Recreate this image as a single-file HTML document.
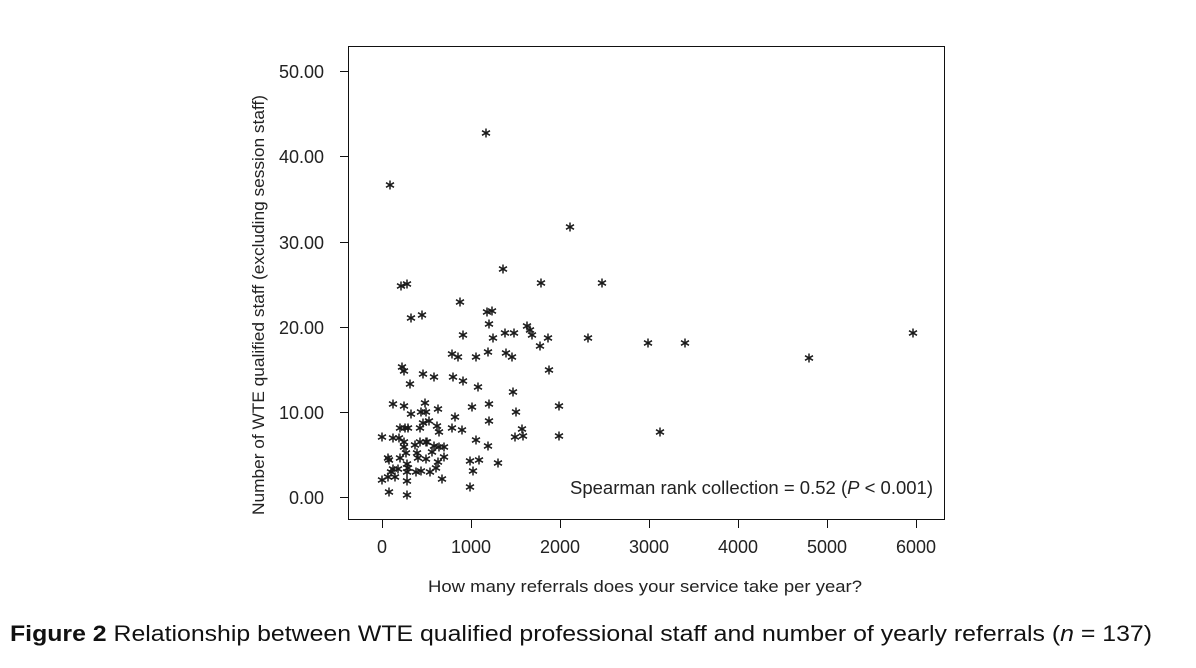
<!DOCTYPE html>
<html><head><meta charset="utf-8"><style>
html,body{margin:0;padding:0;background:#fff;width:1196px;height:668px;overflow:hidden}
svg{display:block}
</style></head><body>
<svg width="1196" height="668" viewBox="0 0 1196 668" xmlns="http://www.w3.org/2000/svg">
<defs>
<g id="s" stroke="#1a1a1a" stroke-width="1.5" fill="none">
<line x1="0" y1="-4.5" x2="0" y2="4.5"/><line x1="-4" y1="-2.3" x2="4" y2="2.3"/><line x1="-4" y1="2.3" x2="4" y2="-2.3"/>
</g>
</defs>
<rect x="348.5" y="46.5" width="596" height="473" fill="none" stroke="#111" stroke-width="1"/>
<g stroke="#111" stroke-width="1">
<line x1="340" y1="71.5" x2="348" y2="71.5"/><line x1="340" y1="156.5" x2="348" y2="156.5"/><line x1="340" y1="242.5" x2="348" y2="242.5"/><line x1="340" y1="327.5" x2="348" y2="327.5"/><line x1="340" y1="412.5" x2="348" y2="412.5"/><line x1="340" y1="497.5" x2="348" y2="497.5"/>
<line x1="382.5" y1="520" x2="382.5" y2="528"/><line x1="471.5" y1="520" x2="471.5" y2="528"/><line x1="560.5" y1="520" x2="560.5" y2="528"/><line x1="649.5" y1="520" x2="649.5" y2="528"/><line x1="738.5" y1="520" x2="738.5" y2="528"/><line x1="827.5" y1="520" x2="827.5" y2="528"/><line x1="916.5" y1="520" x2="916.5" y2="528"/>
</g>
<g font-family="Liberation Sans, sans-serif" font-size="18" fill="#222" text-anchor="end">
<text x="324" y="78">50.00</text><text x="324" y="163">40.00</text><text x="324" y="249">30.00</text><text x="324" y="334">20.00</text><text x="324" y="419">10.00</text><text x="324" y="504">0.00</text>
</g>
<g font-family="Liberation Sans, sans-serif" font-size="18" fill="#222" text-anchor="middle">
<text x="382" y="553">0</text><text x="471" y="553">1000</text><text x="560" y="553">2000</text><text x="649" y="553">3000</text><text x="738" y="553">4000</text><text x="827" y="553">5000</text><text x="916" y="553">6000</text>
<text x="645" y="592" font-size="17" textLength="434" lengthAdjust="spacingAndGlyphs">How many referrals does your service take per year?</text>
<text transform="translate(264,305) rotate(-90)" font-size="17" textLength="420" lengthAdjust="spacingAndGlyphs">Number of WTE qualified staff (excluding session staff)</text>
</g>
<text x="570" y="494" font-family="Liberation Sans, sans-serif" font-size="18" fill="#222" textLength="363" lengthAdjust="spacingAndGlyphs">Spearman rank collection = 0.52 (<tspan font-style="italic">P</tspan> &lt; 0.001)</text>
<text x="10" y="641" font-family="Liberation Sans, sans-serif" font-size="22" fill="#111" textLength="1142" lengthAdjust="spacingAndGlyphs"><tspan font-weight="bold">Figure 2</tspan>  Relationship between WTE qualified professional staff and number of yearly referrals (<tspan font-style="italic">n</tspan> = 137)</text>
<g>
<use href="#s" x="390" y="185"/><use href="#s" x="486" y="133"/><use href="#s" x="570" y="227"/><use href="#s" x="648" y="343"/><use href="#s" x="685" y="343"/><use href="#s" x="809" y="358"/><use href="#s" x="913" y="333"/><use href="#s" x="660" y="432"/>
<use href="#s" x="503" y="269"/><use href="#s" x="401" y="286"/><use href="#s" x="407" y="284"/><use href="#s" x="541" y="283"/><use href="#s" x="602" y="283"/><use href="#s" x="460" y="302"/><use href="#s" x="411" y="318"/><use href="#s" x="422" y="315"/><use href="#s" x="487" y="312"/><use href="#s" x="492" y="311"/><use href="#s" x="489" y="324"/><use href="#s" x="463" y="335"/><use href="#s" x="505" y="333"/><use href="#s" x="514" y="333"/><use href="#s" x="493" y="338"/><use href="#s" x="527" y="326"/><use href="#s" x="530" y="330"/><use href="#s" x="532" y="335"/><use href="#s" x="548" y="338"/><use href="#s" x="540" y="346"/><use href="#s" x="588" y="338"/>
<use href="#s" x="452" y="354"/><use href="#s" x="458" y="357"/><use href="#s" x="476" y="357"/><use href="#s" x="488" y="352"/><use href="#s" x="506" y="353"/><use href="#s" x="512" y="357"/><use href="#s" x="402" y="367"/><use href="#s" x="404" y="371"/><use href="#s" x="423" y="374"/><use href="#s" x="434" y="377"/><use href="#s" x="453" y="377"/><use href="#s" x="463" y="381"/><use href="#s" x="410" y="384"/><use href="#s" x="478" y="387"/><use href="#s" x="549" y="370"/><use href="#s" x="513" y="392"/>
<use href="#s" x="393" y="404"/><use href="#s" x="404" y="406"/><use href="#s" x="425" y="403"/><use href="#s" x="438" y="409"/><use href="#s" x="411" y="414"/><use href="#s" x="421" y="412"/><use href="#s" x="426" y="412"/><use href="#s" x="472" y="407"/><use href="#s" x="489" y="404"/><use href="#s" x="516" y="412"/><use href="#s" x="559" y="406"/><use href="#s" x="455" y="417"/><use href="#s" x="489" y="421"/><use href="#s" x="429" y="421"/><use href="#s" x="423" y="423"/>
<use href="#s" x="400" y="428"/><use href="#s" x="405" y="428"/><use href="#s" x="408" y="428"/><use href="#s" x="420" y="428"/><use href="#s" x="437" y="426"/><use href="#s" x="439" y="432"/><use href="#s" x="452" y="428"/><use href="#s" x="462" y="430"/><use href="#s" x="522" y="429"/><use href="#s" x="523" y="436"/><use href="#s" x="515" y="437"/><use href="#s" x="559" y="436"/>
<use href="#s" x="382" y="437"/><use href="#s" x="393" y="438"/><use href="#s" x="399" y="438"/><use href="#s" x="404" y="442"/><use href="#s" x="420" y="442"/><use href="#s" x="426" y="442"/><use href="#s" x="427" y="442"/><use href="#s" x="415" y="445"/><use href="#s" x="404" y="447"/><use href="#s" x="434" y="446"/><use href="#s" x="439" y="447"/><use href="#s" x="444" y="447"/><use href="#s" x="476" y="440"/><use href="#s" x="488" y="446"/>
<use href="#s" x="432" y="452"/><use href="#s" x="417" y="453"/><use href="#s" x="406" y="453"/><use href="#s" x="388" y="458"/><use href="#s" x="389" y="460"/><use href="#s" x="400" y="458"/><use href="#s" x="418" y="458"/><use href="#s" x="426" y="459"/><use href="#s" x="444" y="457"/><use href="#s" x="438" y="462"/><use href="#s" x="470" y="461"/><use href="#s" x="479" y="460"/><use href="#s" x="498" y="463"/><use href="#s" x="407" y="464"/>
<use href="#s" x="393" y="469"/><use href="#s" x="398" y="469"/><use href="#s" x="408" y="468"/><use href="#s" x="436" y="468"/><use href="#s" x="391" y="472"/><use href="#s" x="407" y="472"/><use href="#s" x="416" y="472"/><use href="#s" x="421" y="471"/><use href="#s" x="430" y="472"/><use href="#s" x="473" y="471"/><use href="#s" x="388" y="477"/><use href="#s" x="395" y="477"/><use href="#s" x="382" y="480"/><use href="#s" x="407" y="481"/><use href="#s" x="442" y="479"/><use href="#s" x="470" y="487"/><use href="#s" x="389" y="492"/><use href="#s" x="407" y="495"/>
</g>
</svg>
</body></html>
